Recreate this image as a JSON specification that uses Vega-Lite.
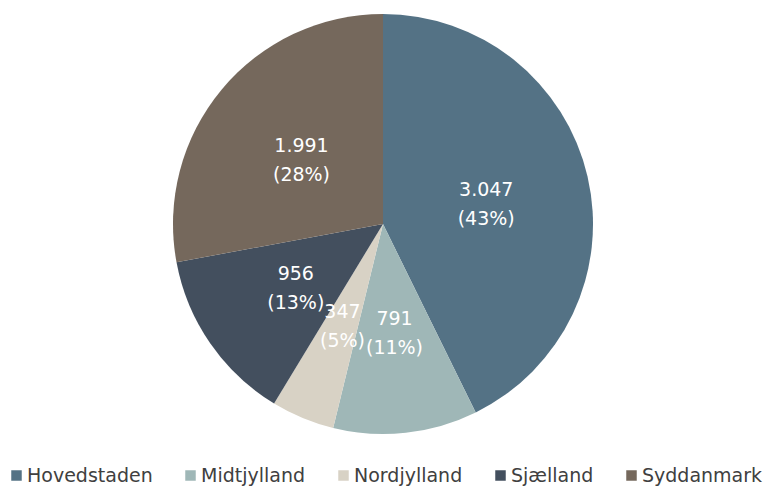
{
  "$schema": "https://vega.github.io/schema/vega-lite/v6.json",
  "width": 766,
  "height": 448,
  "padding": {"top": 0, "left": 0, "right": 0, "bottom": 40},
  "autosize": {"type": "none"},
  "background": "white",
  "config": {"view": {"stroke": null}, "font": "DejaVu Sans"},
  "data": {
    "values": [
      {"region": "Hovedstaden", "value": 3047, "label": "3.047\n(43%)"},
      {"region": "Midtjylland", "value": 791, "label": "791\n(11%)"},
      {"region": "Nordjylland", "value": 347, "label": "347\n(5%)"},
      {"region": "Sjælland", "value": 956, "label": "956\n(13%)"},
      {"region": "Syddanmark", "value": 1991, "label": "1.991\n(28%)"}
    ]
  },
  "encoding": {
    "theta": {"field": "value", "type": "quantitative", "stack": true},
    "order": {"field": "region", "type": "nominal", "sort": "ascending"},
    "color": {
      "field": "region",
      "type": "nominal",
      "scale": {
        "domain": ["Hovedstaden", "Midtjylland", "Nordjylland", "Sjælland", "Syddanmark"],
        "range": ["#547285", "#9fb7b7", "#d8d2c5", "#434f5e", "#75685c"]
      },
      "legend": {
        "title": null,
        "orient": "none",
        "legendX": 7,
        "legendY": 466,
        "direction": "horizontal",
        "padding": 0,
        "gridAlign": "none",
        "symbolType": "square",
        "symbolSize": 110,
        "symbolStrokeWidth": 0,
        "labelFontSize": 19,
        "labelColor": "#404040",
        "labelFont": "DejaVu Sans",
        "labelOffset": 1,
        "columnPadding": 28
      }
    }
  },
  "layer": [
    {"mark": {"type": "arc", "outerRadius": 210}},
    {
      "mark": {
        "type": "text",
        "radius": 106,
        "dy": -10,
        "fontSize": 19,
        "fill": "white",
        "lineBreak": "\n",
        "lineHeight": 29,
        "align": "center",
        "baseline": "middle"
      },
      "encoding": {"text": {"field": "label"}, "color": {"value": "white"}}
    }
  ]
}
